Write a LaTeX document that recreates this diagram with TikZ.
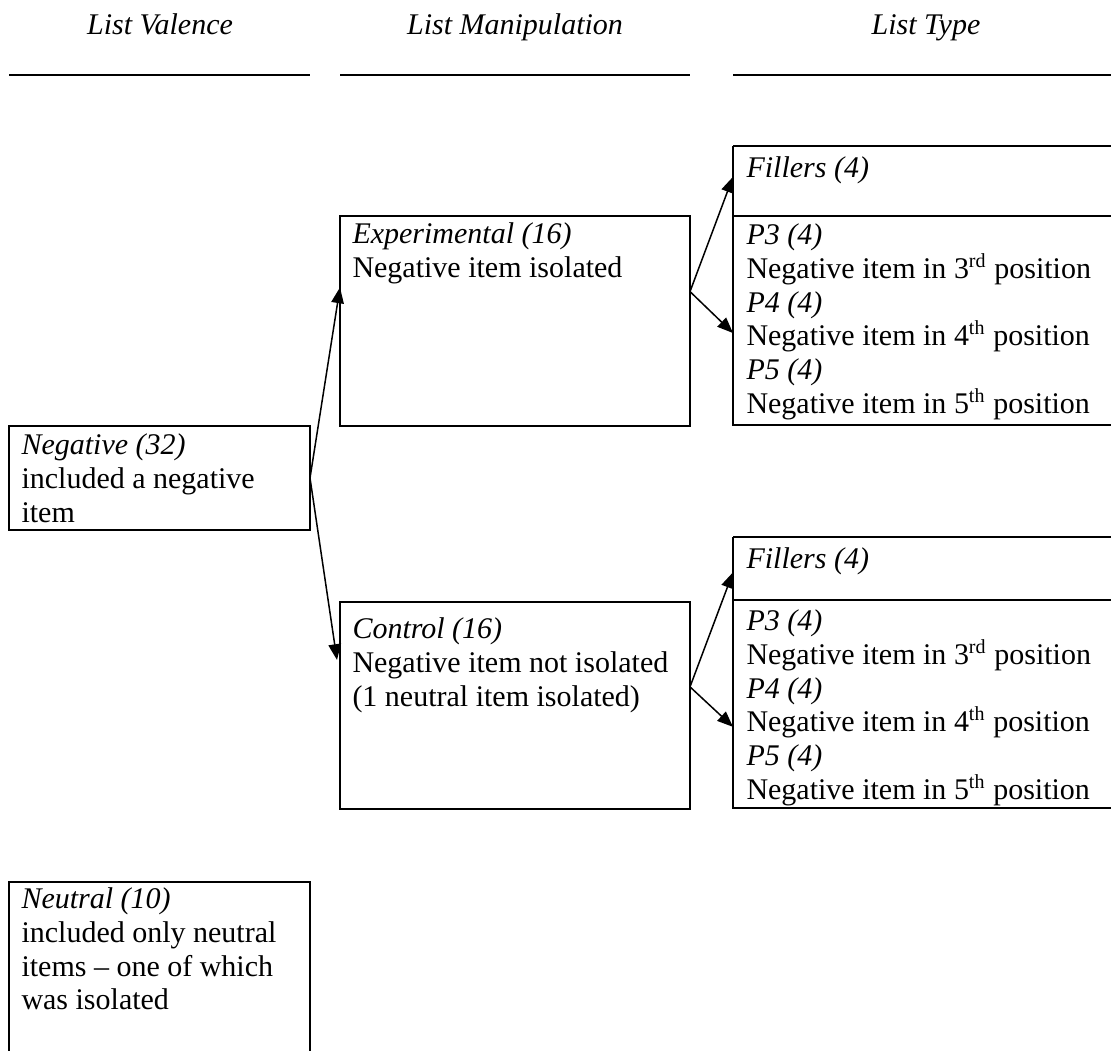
\documentclass[tikz,border=0pt]{standalone}
\usepackage{fontspec}
\setmainfont{Liberation Serif}
\usetikzlibrary{arrows.meta,calc,fit}
\newcommand{\sups}[1]{\smash{\textsuperscript{#1}}}
\begin{document}
\begin{tikzpicture}[x=0.4pt,y=-0.4pt,
  boxline/.style={line width=0.8pt},
  thinline/.style={line width=0.45pt},
  frame/.style={draw, boxline, inner sep=0pt, outer sep=0pt},
  region/.style={inner sep=0pt, outer sep=0pt},
  txt/.style={anchor=north west, inner sep=0pt, align=left, font=\fontsize{12}{13.5}\selectfont},
  head/.style={anchor=base, inner sep=0pt, font=\fontsize{12}{13.5}\selectfont\itshape},
  conn/.style={line width=0.6pt, -{Triangle[length=6.3pt,width=5pt]}},
  hline/.style={line width=0.8pt}]
\useasboundingbox (0,0) rectangle (1111,1051);
\clip (0,0) rectangle (1111,1051);

% column headings
\node[head] (h1) at (160,35) {List Valence};
\node[head] (h2) at (515,35) {List Manipulation};
\node[head] (h3) at (926,35) {List Type};
\coordinate (l1a) at (9,75);   \coordinate (l1b) at (310,75);
\coordinate (l2a) at (340,75); \coordinate (l2b) at (690,75);
\coordinate (l3a) at (733,75); \coordinate (l3b) at (1120,75);
\draw[hline] (l1a) -- (l1b);
\draw[hline] (l2a) -- (l2b);
\draw[hline] (l3a) -- (l3b);

% boxes
\node[frame, fit={(9,426) (310,530)}] (neg) {};
\node[frame, fit={(340,216) (690,426)}] (exp) {};
\node[frame, fit={(340,602) (690,809)}] (ctrl) {};
\node[frame, fit={(9,882) (310,1080)}] (neu) {};

\node[region, fit={(733,146) (1120,216)}] (fill1) {};
\node[frame, fit={(733,216) (1120,425)}] (ps1) {};
\node[region, fit={(733,537) (1120,600)}] (fill2) {};
\node[frame, fit={(733,600) (1120,808)}] (ps2) {};
\draw[thinline] (fill1.north west) -- (fill1.north east);
\draw[boxline] (fill1.north west) -- (fill1.south west);
\draw[thinline] (fill2.north west) -- (fill2.north east);
\draw[boxline] (fill2.north west) -- (fill2.south west);

% texts
\node[txt] (negt) at ($(neg.north west)+(12,4.4)$) {\strut\textit{Negative (32)}\\included a negative\\item};
\node[txt] (expt) at ($(exp.north west)+(12,3.4)$) {\strut\textit{Experimental (16)}\\Negative item isolated};
\node[txt] (ctrlt) at ($(ctrl.north west)+(12,12.4)$) {\strut\textit{Control (16)}\\Negative item not isolated\\(1 neutral item isolated)};
\node[txt] (neut) at ($(neu.north west)+(12,2.4)$) {\strut\textit{Neutral (10)}\\included only neutral\\items -- one of which\\was isolated};
\node[txt] (fill1t) at ($(fill1.north west)+(13,7.4)$) {\strut\textit{Fillers (4)}};
\node[txt] (ps1t) at ($(ps1.north west)+(13,4.4)$) {\strut\textit{P3 (4)}\\Negative item in 3\sups{rd} position\\\textit{P4 (4)}\\Negative item in 4\sups{th} position\\\textit{P5 (4)}\\Negative item in 5\sups{th} position};
\node[txt] (fill2t) at ($(fill2.north west)+(13,7.4)$) {\strut\textit{Fillers (4)}};
\node[txt] (ps2t) at ($(ps2.north west)+(13,6.4)$) {\strut\textit{P3 (4)}\\Negative item in 3\sups{rd} position\\\textit{P4 (4)}\\Negative item in 4\sups{th} position\\\textit{P5 (4)}\\Negative item in 5\sups{th} position};

% connectors
\draw[conn] (neg.east) -- ($(exp.north west)!0.34!(exp.south west)$);
\draw[conn] (neg.east) -- ($(ctrl.north west)!0.28!(ctrl.south west)+(-3,0)$);
\draw[conn] ($(exp.north east)!0.36!(exp.south east)$) -- ($(fill1.north west)!0.44!(fill1.south west)$);
\draw[conn] ($(exp.north east)!0.36!(exp.south east)$) -- ($(ps1.north west)!0.56!(ps1.south west)$);
\draw[conn] ($(ctrl.north east)!0.41!(ctrl.south east)$) -- ($(fill2.north west)!0.56!(fill2.south west)$);
\draw[conn] ($(ctrl.north east)!0.41!(ctrl.south east)$) -- ($(ps2.north west)!0.61!(ps2.south west)$);
\end{tikzpicture}
\end{document}
